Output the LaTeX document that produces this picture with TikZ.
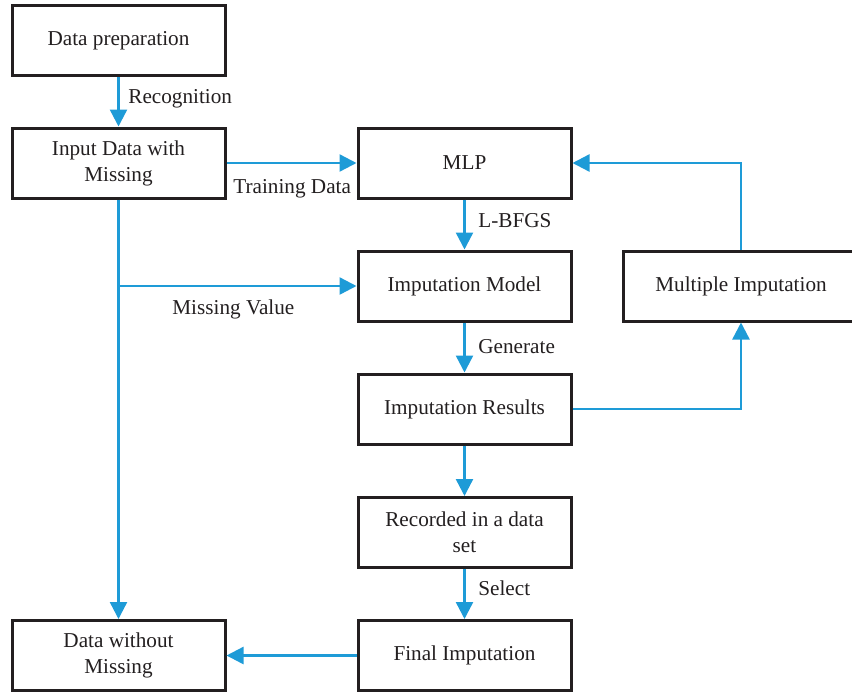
\documentclass[tikz,border=0pt]{standalone}
\usepackage{fontspec}
\setmainfont{Liberation Serif}
\usetikzlibrary{arrows.meta}
\definecolor{flow}{HTML}{1E9BD7}
\definecolor{frame}{HTML}{231F20}
\begin{document}
\begin{tikzpicture}[x=0.5pt,y=-0.5pt,
  font=\fontsize{10.6}{13}\selectfont,
  box/.style={draw=frame,line width=1.5pt,fill=white,minimum width=106.5pt,
    minimum height=35pt,align=center,inner sep=0pt,text=frame},
  link/.style={draw=flow,line width=1.2pt,-{Triangle[width=8.5pt,length=8.5pt]}},
  tag/.style={anchor=west,inner sep=0pt,text=frame}]
\useasboundingbox (0,0) rectangle (852,692);
\clip (0,0) rectangle (852,692);

% process boxes
\node[box] (prep) at (118.5,40.5) {Data preparation};
\node[box] (input) at (118.5,163) {Input Data with\\Missing};
\node[box] (mlp) at (464.5,163) {MLP};
\node[box] (model) at (464.5,286) {Imputation Model};
\node[box,minimum width=118pt] (multi) at (741,286) {Multiple Imputation};
\node[box] (results) at (464.5,409) {Imputation Results};
\node[box] (record) at (464.5,532.5) {Recorded in a data\\set};
\node[box] (final) at (464.5,655.5) {Final Imputation};
\node[box] (clean) at (118.5,655.5) {Data without\\Missing};

% junction on the left trunk
\coordinate (branch) at (118.5,286);

% connectors
\draw[link] (prep) -- (input);
\draw[link] (input) -- (mlp);
\draw[link] (input) -- (clean);
\draw[link] (branch) -- (model);
\draw[link] (mlp) -- (model);
\draw[link] (model) -- (results);
\draw[link] (results) -- (record);
\draw[link] (record) -- (final);
\draw[link] (final) -- (clean);
\draw[link] (results.east) -| (multi.south);
\draw[link] (multi.north) |- (mlp.east);

% connector labels
\node[tag] (lrec) at (128,99) {Recognition};
\node[tag] (ltrain) at (233,189) {Training Data};
\node[tag] (lbfgs) at (478,221) {L-BFGS};
\node[tag] (lmiss) at (172,309) {Missing Value};
\node[tag] (lgen) at (478,347) {Generate};
\node[tag] (lsel) at (478,588) {Select};
\end{tikzpicture}
\end{document}
